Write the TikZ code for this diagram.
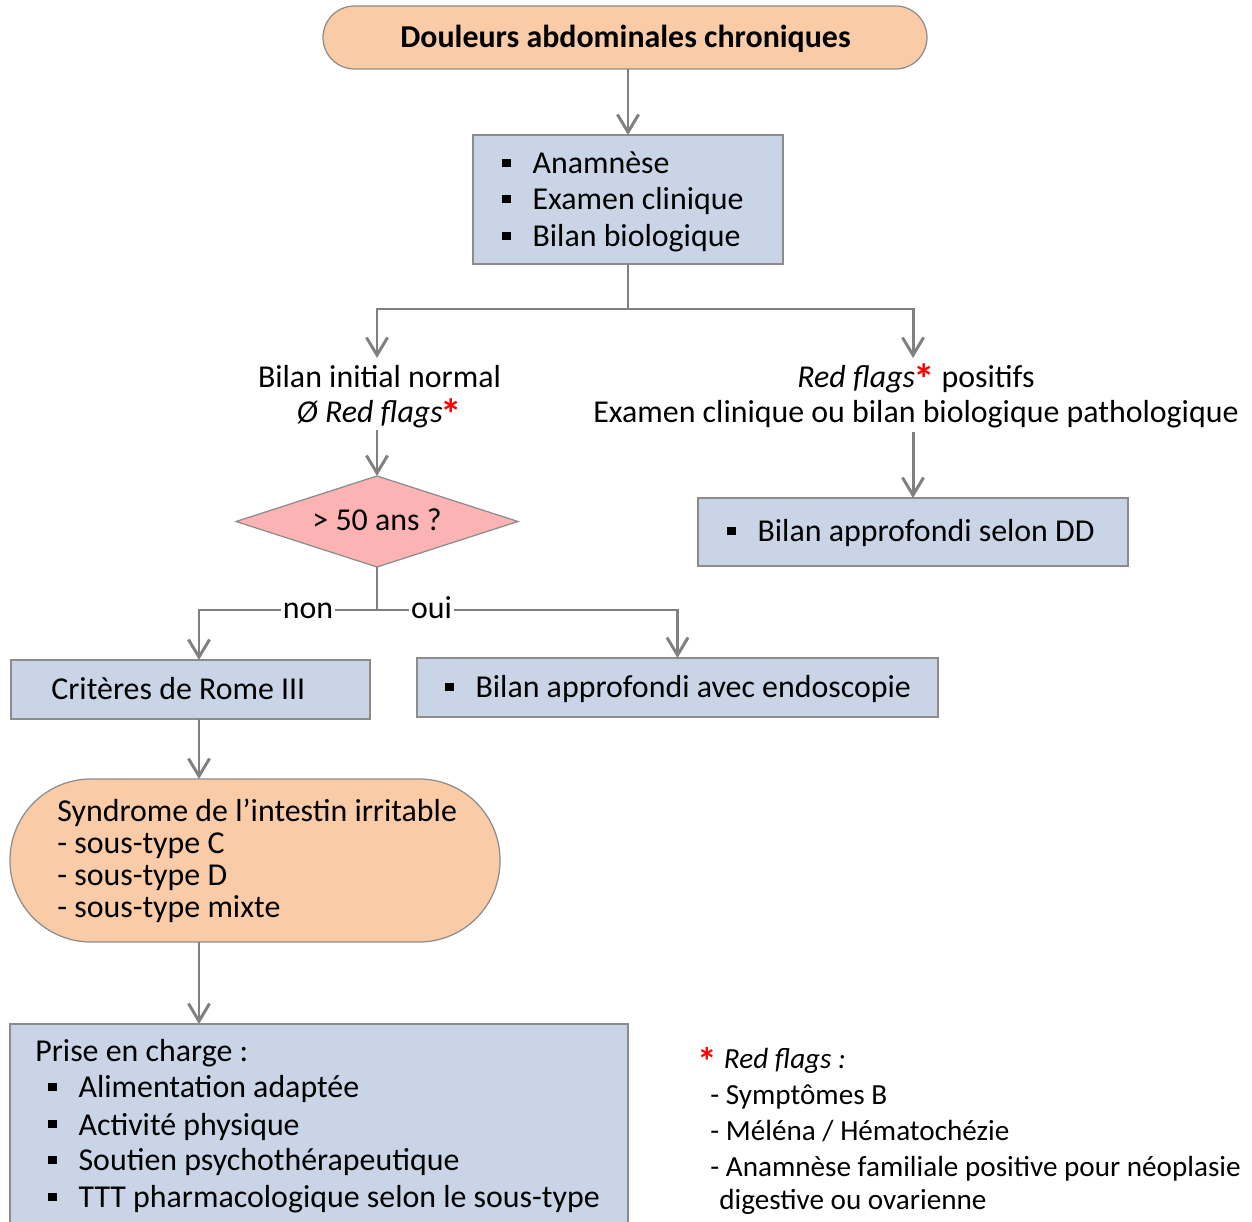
\documentclass[tikz,border=0pt]{standalone}
\usepackage{fontspec}
\setmainfont{Carlito}
\usetikzlibrary{arrows.meta,shapes.geometric}
\newcommand\pxu{0.02cm}
\newcommand\sqb{\rule[3.8pt]{4.9pt}{4.9pt}\hspace{12.3pt}}
\newcommand\rstarbox{\textcolor{redstar}{\smash{\raisebox{-3.6pt}{\scalebox{1.35}{\textbf{*}}}}}}
\newcommand\rstar{\hspace{-1.2pt}\rstarbox}
\definecolor{peach}{HTML}{F9CBA7}
\definecolor{bluebox}{HTML}{C9D5E6}
\definecolor{pinkd}{HTML}{FBB3B3}
\definecolor{bordergray}{HTML}{8C8C8C}
\definecolor{linegray}{HTML}{808080}
\definecolor{redstar}{HTML}{FF0000}
\tikzset{
  shapebox/.style={draw=bordergray, line width=0.7pt, inner sep=0pt, outer sep=0pt},
  bluerect/.style={shapebox, rectangle, fill=bluebox},
  peachpill/.style={shapebox, rectangle, fill=peach},
  decision/.style={shapebox, diamond, fill=pinkd},
  conn/.style={draw=linegray, line width=1.7pt},
  arr/.style={conn, -{Straight Barb[length=10pt,width=12pt]}},
  txt/.style={inner sep=0pt, font=\fontsize{18.15}{21}\selectfont},
  twoline/.style={inner sep=0pt, font=\fontsize{18.15}{19.9}\selectfont},
  smalltxt/.style={inner sep=0pt, font=\fontsize{16.6}{19}\selectfont},
  lbl/.style={txt, fill=white, inner xsep=1pt, inner ysep=3pt},
}
\begin{document}
\begin{tikzpicture}[x=0.02cm, y=-0.02cm]
\useasboundingbox (0,0) rectangle (1252,1222);

% shapes
\node[peachpill, rounded corners={31.5*\pxu}, minimum width={604*\pxu}, minimum height={63*\pxu}] (title) at (625,37.5) {};
\node[bluerect, minimum width={310*\pxu}, minimum height={129*\pxu}] (hist) at (628,199.5) {};
\node[decision, minimum width={282*\pxu}, minimum height={91*\pxu}] (dia) at (377,521.5) {};
\node[bluerect, minimum width={430*\pxu}, minimum height={68*\pxu}] (dd) at (913,532) {};
\node[bluerect, minimum width={359*\pxu}, minimum height={59*\pxu}] (rome) at (190.5,689.5) {};
\node[bluerect, minimum width={521*\pxu}, minimum height={59*\pxu}] (endo) at (677.5,687.5) {};
\node[peachpill, rounded corners={81*\pxu}, minimum width={490*\pxu}, minimum height={163*\pxu}] (sii) at (255,860.5) {};
\node[bluerect, minimum width={618*\pxu}, minimum height={208*\pxu}] (prise) at (319,1128) {};

% texts
\node[txt, anchor=base, font=\fontsize{18.15}{21}\selectfont\bfseries] (titletxt) at (625.5,48) {Douleurs abdominales chroniques};

\node[txt, anchor=base west] (h1) at (502,174) {\sqb Anamnèse};
\node[txt, anchor=base west] (h2) at (502,210) {\sqb Examen clinique};
\node[txt, anchor=base west] (h3) at (502,247) {\sqb Bilan biologique};

\node[twoline, anchor=base] (ltxt) at (379.5,388) {\begin{tabular}[t]{@{}c@{}}Bilan initial normal\\\textit{Ø Red flags}\rstar\end{tabular}};
\coordinate (ltop) at (377,358);
\coordinate (lbot) at (377,430);

\node[twoline, anchor=base] (rtxt) at (916,388) {\begin{tabular}[t]{@{}c@{}}\textit{Red flags}\rstar{} positifs\\Examen clinique ou bilan biologique pathologique\end{tabular}};
\coordinate (rtop) at (913,358);
\coordinate (rbot) at (913,432);

\node[txt, anchor=base] (diatxt) at (377,531) {> 50 ans ?};
\node[txt, anchor=base west] (ddtxt) at (727,542) {\sqb Bilan approfondi selon DD};
\node[txt, anchor=base west] (rometxt) at (51,700) {Critères de Rome III};
\node[txt, anchor=base west] (endotxt) at (445,698) {\sqb Bilan approfondi avec endoscopie};

\node[txt, anchor=base west] (s1) at (57,822) {Syndrome de l’intestin irritable};
\node[txt, anchor=base west] (s2) at (57,854) {- sous-type C};
\node[txt, anchor=base west] (s3) at (57,886) {- sous-type D};
\node[txt, anchor=base west] (s4) at (57,918) {- sous-type mixte};

\node[txt, anchor=base west] (p0) at (35,1062) {Prise en charge :};
\node[txt, anchor=base west] (p1) at (48,1098) {\sqb Alimentation adaptée};
\node[txt, anchor=base west] (p2) at (48,1135) {\sqb Activité physique};
\node[txt, anchor=base west] (p3) at (48,1171) {\sqb Soutien psychothérapeutique};
\node[txt, anchor=base west] (p4) at (48,1208) {\sqb TTT pharmacologique selon le sous-type};

\node[smalltxt, anchor=base west] (f0) at (697,1069) {\rstarbox\hspace{4pt}\textit{Red flags :}};
\node[smalltxt, anchor=base west] (f1) at (710,1105) {- Symptômes B};
\node[smalltxt, anchor=base west] (f2) at (710,1141) {- Méléna / Hématochézie};
\node[smalltxt, anchor=base west] (f3) at (710,1176) {- Anamnèse familiale positive pour néoplasie};
\node[smalltxt, anchor=base west] (f4) at (719,1210) {digestive ou ovarienne};

% connectors
\coordinate (leftcol) at ([xshift={8.5*\pxu}]rome.south);
\draw[arr] (hist.north |- title.south) -- (hist.north);
\draw[arr] (hist.south) -- ++(0,45) -| (ltop);
\draw[arr] (hist.south) -- ++(0,45) -| (rtop);
\draw[arr] (lbot) -- (dia.north);
\draw[arr] (rbot) -- (dd.north);
\draw[arr] (dia.south) -- ++(0,43) -| ([xshift={8.5*\pxu}]rome.north);
\draw[arr] (dia.south) -- ++(0,43) -| (endo.north);
\draw[arr] (leftcol) -- (sii.north -| leftcol);
\draw[arr] (sii.south -| leftcol) -- (prise.north -| leftcol);

\node[lbl, anchor=base] (non) at (308,619) {non};
\node[lbl, anchor=base] (oui) at (431.5,619) {oui};
\end{tikzpicture}
\end{document}
